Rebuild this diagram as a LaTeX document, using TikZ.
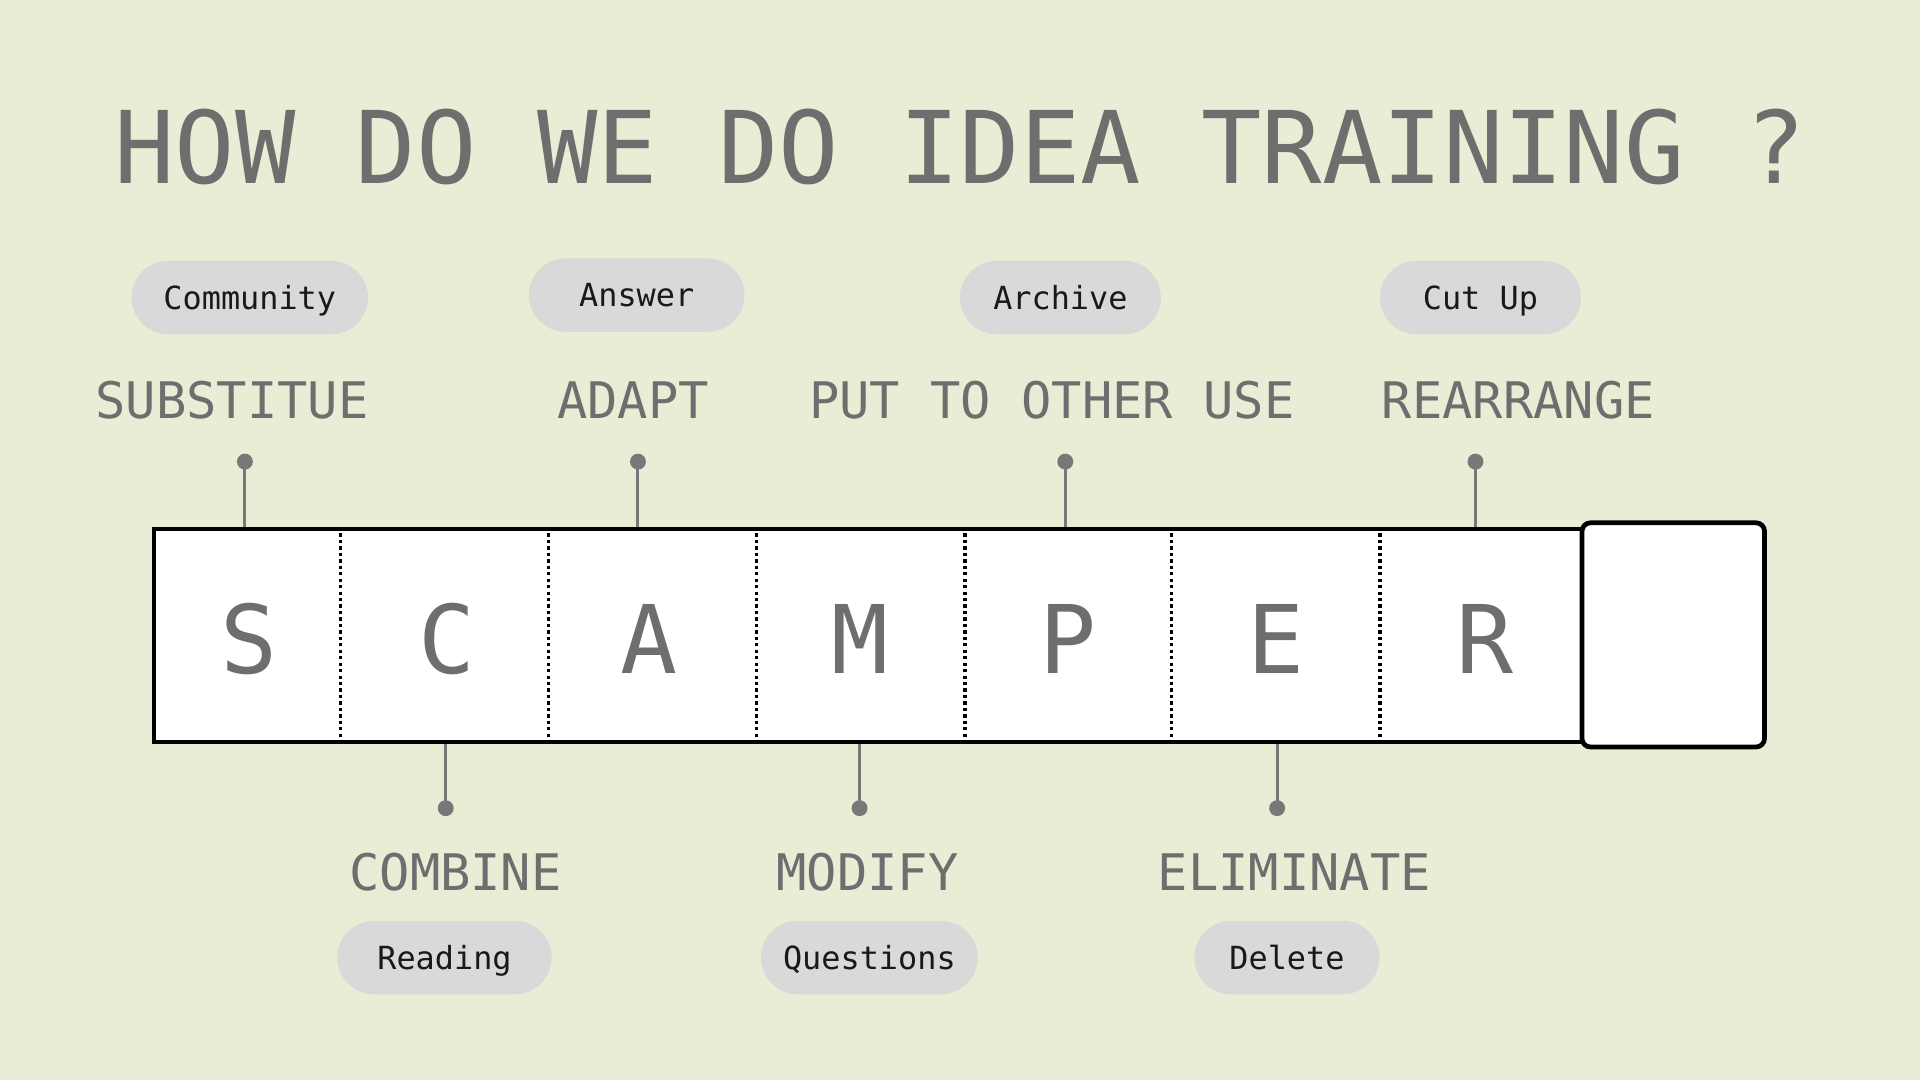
\documentclass[tikz,border=0pt]{standalone}
\usepackage{fontspec}
\setmonofont{DejaVu Sans Mono}
\definecolor{bg}{HTML}{E9EDD5}
\definecolor{txtgray}{HTML}{6E6E6E}
\definecolor{pillgray}{HTML}{D9D9D9}
\definecolor{linegray}{HTML}{787878}
\begin{document}
\begin{tikzpicture}[x=0.01cm,y=-0.01cm,
  titletext/.style={font=\ttfamily\fontsize{23.3}{28}\selectfont, text=txtgray, inner sep=0, anchor=base},
  steplabel/.style={font=\ttfamily\fontsize{11.7}{14}\selectfont, text=txtgray, inner sep=0, anchor=base},
  letter/.style={font=\ttfamily\fontsize{22}{26}\selectfont, text=txtgray, inner sep=0, anchor=base},
  pill/.style={fill=pillgray, rounded corners=0.3cm, minimum height=0.6cm, inner sep=0,
    font=\ttfamily\fontsize{7.4}{9}\selectfont, text=black!90, text height=0.19cm, text depth=0cm},
  strip/.style={draw=black, fill=white, line width=0.9pt, minimum width=11.66cm, minimum height=1.74cm, inner sep=0},
  extrabox/.style={draw=black, fill=white, line width=1.1pt, rounded corners=0.07cm, minimum width=1.49cm, minimum height=1.83cm, inner sep=0},
  divider/.style={draw=black, line width=0.75pt, dash pattern=on 0.75pt off 0.75pt},
  stem/.style={draw=linegray, line width=0.7pt},
  knob/.style={circle, fill=linegray, inner sep=0, minimum size=0.13cm}
]
% background
\fill[bg] (0,0) rectangle (1568,882);
\useasboundingbox (0,0) rectangle (1568,882);

% title
\node[titletext] (title) at (784,150) {HOW DO WE DO IDEA TRAINING ?};

% top pills
\node[pill, minimum width=1.93cm] (pComm) at (204,243) {Community};
\node[pill, minimum width=1.76cm] (pAns) at (520,241) {Answer};
\node[pill, minimum width=1.64cm] (pArch) at (866,243) {Archive};
\node[pill, minimum width=1.64cm] (pCut) at (1209,243) {Cut Up};

% top labels
\node[steplabel] (lS) at (189.5,342) {SUBSTITUE};
\node[steplabel] (lA) at (517,342) {ADAPT};
\node[steplabel] (lP) at (859,342) {PUT TO OTHER USE};
\node[steplabel] (lR) at (1240,342) {REARRANGE};

% strip
\node[strip] (strip) at (709,519) {};
\node[extrabox] (extra) at (1366.5,518.5) {};

% dividers
\foreach \i/\x in {1/278,2/448,3/618,4/788,5/957,6/1127}{
  \coordinate (d\i) at (\x,0);
  \draw[divider] (d\i |- strip.north) -- (d\i |- strip.south);
}

% letters
\node[letter] (cS) at (203,550) {S};
\node[letter] (cC) at (365,550) {C};
\node[letter] (cA) at (530,550) {A};
\node[letter] (cM) at (702,550) {M};
\node[letter] (cP) at (872,550) {P};
\node[letter] (cE) at (1042,550) {E};
\node[letter] (cR) at (1213,550) {R};

% top connectors
\node[knob] (kS) at (200,377) {};
\node[knob] (kA) at (521,377) {};
\node[knob] (kP) at (870,377) {};
\node[knob] (kR) at (1205,377) {};
\foreach \k in {kS,kA,kP,kR}{
  \draw[stem] (\k.center) -- (\k |- strip.north);
}

% bottom connectors
\node[knob] (kC) at (364,660) {};
\node[knob] (kM) at (702,660) {};
\node[knob] (kE) at (1043,660) {};
\foreach \k in {kC,kM,kE}{
  \draw[stem] (\k.center) -- (\k |- strip.south);
}

% bottom labels
\node[steplabel] (lC) at (372,727) {COMBINE};
\node[steplabel] (lM) at (708.5,727) {MODIFY};
\node[steplabel] (lE) at (1057,727) {ELIMINATE};

% bottom pills
\node[pill, minimum width=1.75cm] (pRead) at (363,782) {Reading};
\node[pill, minimum width=1.77cm] (pQue) at (710,782) {Questions};
\node[pill, minimum width=1.51cm] (pDel) at (1051,782) {Delete};
\end{tikzpicture}
\end{document}
